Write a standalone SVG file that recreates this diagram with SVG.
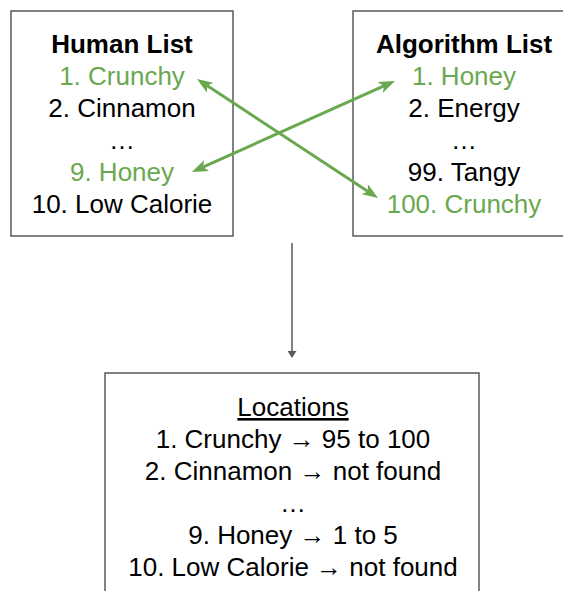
<svg xmlns="http://www.w3.org/2000/svg" width="563" height="591" viewBox="0 0 563 591">
  <style>
    .box { fill: #ffffff; stroke: #595959; stroke-width: 1.5; }
    .t { font-family: "Liberation Sans", Arial, sans-serif; font-size: 26px; text-anchor: middle; fill: #000000; }
    .h { font-weight: bold; }
    .g { fill: #6aa84f; }
    .link { stroke: #6aa84f; stroke-width: 3; fill: none; marker-start: url(#gh); marker-end: url(#gh); }
    .flow { stroke: #595959; stroke-width: 1.5; fill: none; marker-end: url(#ah); }
  </style>
  <defs>
    <marker id="gh" viewBox="0 0 16 12" refX="4" refY="6" markerWidth="16" markerHeight="12" markerUnits="userSpaceOnUse" orient="auto-start-reverse">
      <path d="M0,0 L16,6 L0,12 L4,6 Z" fill="#6aa84f"/>
    </marker>
    <marker id="ah" viewBox="0 0 7 9" refX="0" refY="4.5" markerWidth="7" markerHeight="9" markerUnits="userSpaceOnUse" orient="auto">
      <path d="M0,0 L7,4.5 L0,9 Z" fill="#595959"/>
    </marker>
  </defs>

  <rect width="563" height="591" fill="#ffffff"/>

  <!-- human ranking -->
  <g id="human-list">
    <rect class="box" x="11" y="11" width="222" height="225"/>
    <text class="t h" x="122" y="53">Human List</text>
    <text class="t g" x="122" y="85">1. Crunchy</text>
    <text class="t" x="122" y="117">2. Cinnamon</text>
    <text class="t" x="122" y="149">…</text>
    <text class="t g" x="122" y="181">9. Honey</text>
    <text class="t" x="122" y="213">10. Low Calorie</text>
  </g>

  <!-- algorithm ranking -->
  <g id="algorithm-list">
    <rect class="box" x="353" y="11" width="222" height="225"/>
    <text class="t h" x="464" y="53">Algorithm List</text>
    <text class="t g" x="464" y="85">1. Honey</text>
    <text class="t" x="464" y="117">2. Energy</text>
    <text class="t" x="464" y="149">…</text>
    <text class="t" x="464" y="181">99. Tangy</text>
    <text class="t g" x="464" y="213">100. Crunchy</text>
  </g>

  <!-- resulting positions -->
  <g id="locations">
    <rect class="box" x="105" y="373" width="374" height="240"/>
    <text class="t" x="293" y="416" text-decoration="underline">Locations</text>
    <text class="t" x="293" y="448">1. Crunchy → 95 to 100</text>
    <text class="t" x="293" y="480">2. Cinnamon → not found</text>
    <text class="t" x="293" y="512">…</text>
    <text class="t" x="293" y="544">9. Honey → 1 to 5</text>
    <text class="t" x="293" y="576">10. Low Calorie → not found</text>
  </g>

  <g id="connectors">
    <line class="link" x1="207" y1="85.6" x2="368" y2="191.4"/>
    <line class="link" x1="202.9" y1="167.1" x2="384" y2="85.9"/>
    <line class="flow" x1="292" y1="243" x2="292" y2="351"/>
  </g>
</svg>
